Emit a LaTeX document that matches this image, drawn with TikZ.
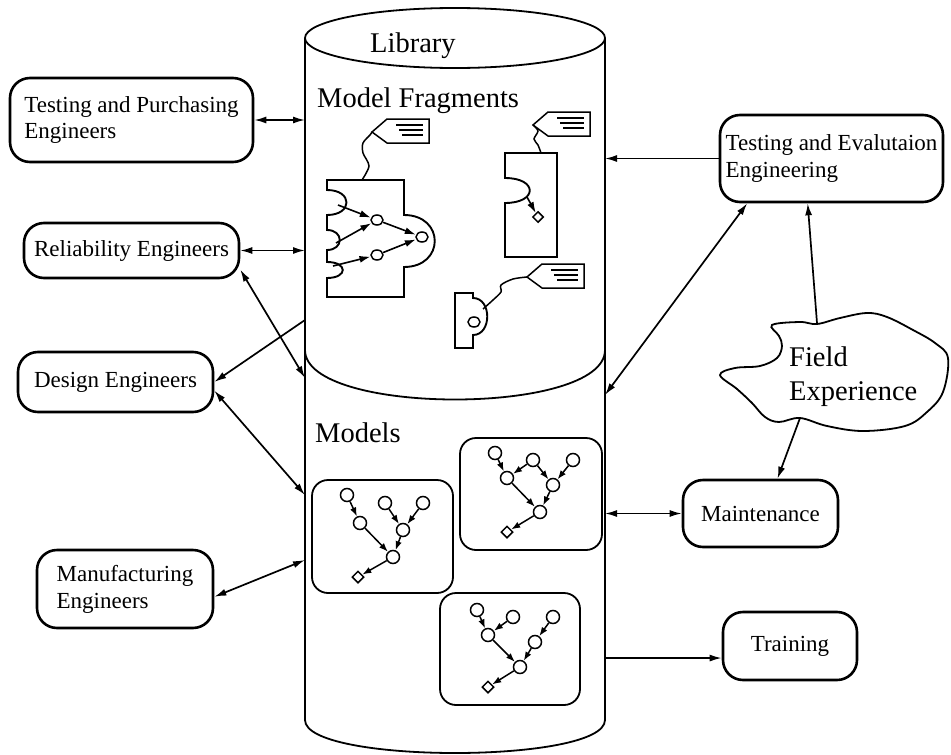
\documentclass[tikz,border=0pt]{standalone}
\usepackage{fontspec}
\setmainfont{Liberation Serif}
\usetikzlibrary{arrows.meta,positioning,shapes.geometric}
\tikzset{
    >={Latex[length=12pt,width=7pt]}, % heads of the outer connectors
    group/.style={draw, rounded corners=20pt, line width=2.6pt, inner sep=0pt, align=left, font=\fontsize{23}{27}\selectfont},
    bigtext/.style={inner sep=0pt, align=left, font=\fontsize{28.5}{34}\selectfont},
    cyl/.style={line width=1.8pt},
    link/.style={line width=1.7pt},
    modelbox/.style={line width=1.8pt, rounded corners=16pt},
    tnode/.style={circle, draw, line width=1.5pt, inner sep=0pt, minimum size=13pt},
    tleaf/.style={diamond, draw, line width=1.5pt, inner sep=0pt, minimum size=12pt},
    tarrow/.style={-{Latex[length=9pt,width=6.5pt]}, line width=1.5pt},
    fdot/.style={ellipse, draw, line width=1.5pt, inner sep=0pt, minimum width=12pt, minimum height=10pt},
    fragarrow/.style={-{Latex[length=11pt,width=7pt]}, line width=1.6pt},
    frag/.style={line width=1.9pt},
    fragtag/.pic={
        \draw[line width=1.5pt] (0,0) -- (15,-13) -- (57,-13) -- (57,11) -- (15,11) -- cycle;
        \draw[line width=1.6pt] (24,-7) -- (51,-7) (27,-2) -- (51,-2) (30,3) -- (51,3);
    },
}

\begin{document}
\begin{tikzpicture}[x=1pt,y=-1pt]
      \useasboundingbox (0,0) rectangle (951,755);

      % the library cylinder
      \draw[cyl] (305,38) -- (305,720) .. controls (305,764) and (605,764) .. (605,720) -- (605,38);
      \draw[cyl] (455,38) ellipse [x radius=150, y radius=30];
      \draw[cyl] (305,350) .. controls (305,416) and (605,416) .. (605,350);
      \node (q_library) [bigtext, anchor=base west] at (370,52) {Library};
      \node (q_fragments) [bigtext, anchor=base west] at (317,107) {Model Fragments};
      \node (q_models) [bigtext, anchor=base west] at (315,442) {Models};

      % model fragments
      \draw[frag] (327,180) -- (404,180) -- (404,215) .. controls (445,215) and (445,267) .. (404,267)
            -- (404,297) -- (327,297) -- (327,278) .. controls (348,278) and (348,262) .. (327,262)
            -- (327,250) .. controls (344,250) and (344,230) .. (327,230)
            -- (327,215) .. controls (353,215) and (353,190) .. (327,190) -- cycle;
      \draw[frag] (505,153) -- (557,153) -- (557,257) -- (505,257) -- (505,203)
            .. controls (538,203) and (538,178) .. (505,178) -- cycle;
      \draw[frag] (455,293) -- (473,293) -- (473,298) .. controls (492,298) and (492,335) .. (473,335)
            -- (473,348) -- (455,348) -- cycle;
      \pic at (372,132) {fragtag};
      \pic at (533,125) {fragtag};
      \pic at (527,277) {fragtag};
      \draw[line width=1.5pt] plot[smooth] coordinates {(362,180) (369,166) (363,153) (363,143) (370,135) (372,132)};
      \draw[line width=1.5pt] plot[smooth] coordinates {(541,153) (538,145) (534,139) (538,131) (533,125)};
      \draw[line width=1.5pt] plot[smooth] coordinates {(483,309) (493,300) (501,292) (501,285) (513,279) (527,277)};

      \node (f_a) [fdot] at (377,220) {};
      \node (f_b) [fdot] at (377,255) {};
      \node (f_c) [fdot] at (422,237) {};
      \node (f_d) [tleaf, minimum size=11pt] at (538,217) {};
      \node (f_e) [fdot] at (474,322) {};
      \coordinate (f_in1) at (338,205);
      \coordinate (f_in2) at (336,243);
      \coordinate (f_in3) at (333,266);
      \coordinate (f_in4) at (527,197);
      \path[fragarrow]
      (f_in1) edge (f_a)
      (f_in2) edge (f_a)
      (f_in3) edge (f_b)
      (f_a)   edge (f_c)
      (f_b)   edge (f_c)
      (f_in4) edge (f_d)
      ;

      % models
      \draw[modelbox] (312,480) rectangle (453,593);
      \draw[modelbox] (460,438) rectangle (602,550);
      \draw[modelbox] (440,593) rectangle (580,705);

      \node (m_a1) [tnode] at (347,495) {};
      \node (m_a2) [tnode] at (385,503) {};
      \node (m_a3) [tnode] at (423,503) {};
      \node (m_a4) [tnode] at (360,523) {};
      \node (m_a5) [tnode] at (403,530) {};
      \node (m_a6) [tnode] at (393,557) {};
      \node (m_ad) [tleaf] at (358,577) {};

      \node (m_b1) [tnode] at (495,453) {};
      \node (m_b2) [tnode] at (533,460) {};
      \node (m_b3) [tnode] at (573,460) {};
      \node (m_b4) [tnode] at (507,478) {};
      \node (m_b5) [tnode] at (553,485) {};
      \node (m_b6) [tnode] at (540,512) {};
      \node (m_bd) [tleaf] at (507,532) {};

      \node (m_c1) [tnode] at (477,610) {};
      \node (m_c2) [tnode] at (513,617) {};
      \node (m_c3) [tnode] at (553,617) {};
      \node (m_c4) [tnode] at (488,635) {};
      \node (m_c5) [tnode] at (535,642) {};
      \node (m_c6) [tnode] at (520,667) {};
      \node (m_cd) [tleaf] at (488,687) {};

      \path[tarrow]
      (m_a1) edge (m_a4)
      (m_a2) edge (m_a5)
      (m_a3) edge (m_a5)
      (m_a4) edge (m_a6)
      (m_a5) edge (m_a6)
      (m_a6) edge (m_ad)
      (m_b1) edge (m_b4)
      (m_b2) edge (m_b4)
      (m_b2) edge (m_b5)
      (m_b3) edge (m_b5)
      (m_b4) edge (m_b6)
      (m_b5) edge (m_b6)
      (m_b6) edge (m_bd)
      (m_c1) edge (m_c4)
      (m_c2) edge (m_c4)
      (m_c3) edge (m_c5)
      (m_c4) edge (m_c6)
      (m_c5) edge (m_c6)
      (m_c6) edge (m_cd)
      ;

      % people round the library
      \node (q_testpurch) [group, minimum width=243pt, minimum height=84pt] at (131.5,120) {Testing and Purchasing\\Engineers};
      \node (q_reliab) [group, minimum width=215pt, minimum height=55pt, on grid, below=130.5pt of q_testpurch] {Reliability Engineers};
      \node (q_design) [group, minimum width=195pt, minimum height=60pt] at (115.5,382) {Design Engineers};
      \node (q_manuf) [group, minimum width=176pt, minimum height=78pt] at (125,589) {Manufacturing\\Engineers};
      \node (q_testeval) [group, minimum width=223pt, minimum height=87pt] at (831.5,158.5) {Testing and Evalutaion\\Engineering};
      \node (q_maint) [group, minimum width=155pt, minimum height=67pt] at (760.5,513.5) {Maintenance};
      \node (q_train) [group, minimum width=134pt, minimum height=68pt] at (790,646) {Training};

      % field experience cloud
      \draw[cyl] plot[smooth cycle, tension=0.6] coordinates {(772,325) (800,322) (817,324) (840,318) (867,313)
            (887,317) (913,330) (935,343) (948,358) (943,392) (927,412) (905,426) (863,431) (827,426)
            (800,418) (779,422) (765,417) (752,403) (737,389) (720,375) (735,368) (760,366) (777,358)
            (782,346) (779,336)};
      \node (q_field) [bigtext, anchor=north west] at (789,347) {Field\\Experience};
      \coordinate (q_field_n) at (817,323);
      \coordinate (q_field_s) at (800,418);

      % ends on the library walls
      \coordinate (c_tp) at (305,120);
      \coordinate (c_rel) at (305,250.5);
      \coordinate (c_rel2) at (305,378);
      \coordinate (c_des) at (305,320);
      \coordinate (c_des2) at (305,495);
      \coordinate (c_man) at (305,560);
      \coordinate (c_te) at (605,158.5);
      \coordinate (c_te2) at (605,395);
      \coordinate (c_mt) at (605,513.5);
      \coordinate (c_tr) at (605,658);

      \path[<->, link]
      (q_testpurch)    edge  node {} (c_tp)
      (q_reliab)       edge  node {} (c_rel)
      (q_reliab.-10)   edge  node {} (c_rel2)
      (q_design.-5)    edge  node {} (c_des2)
      (q_manuf.-5)     edge  node {} (c_man)
      (q_testeval.208) edge  node {} (c_te2)
      (q_maint)        edge  node {} (c_mt)
      ;
      \path[->, link]
      (c_des)          edge  node {} (q_design.east)
      (q_testeval)     edge  node {} (c_te)
      (q_field_n)      edge  node {} (q_testeval.242)
      (q_field_s)      edge  node {} (q_maint.64)
      (c_tr)           edge  node {} (q_train.190)
      ;
\end{tikzpicture}
\end{document}
